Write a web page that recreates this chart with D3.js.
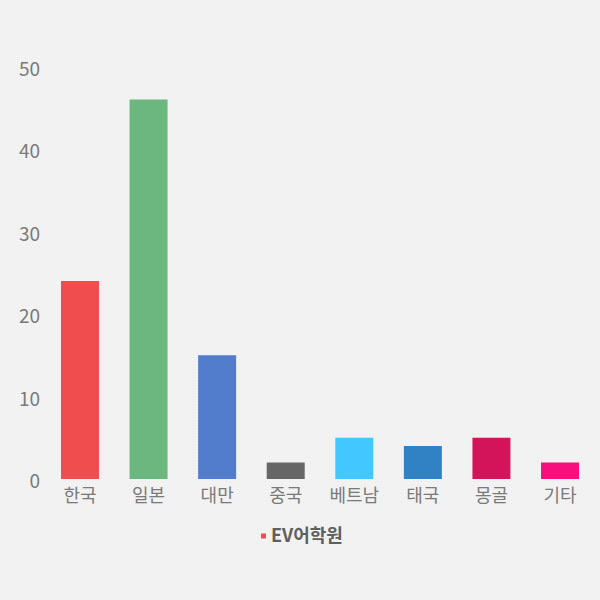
<!DOCTYPE html>
<html>
<head>
<meta charset="utf-8">
<script src="https://cdn.jsdelivr.net/npm/d3@7"></script>
<style>
  html, body { margin: 0; padding: 0; background: #f3f3f3; }
  svg { display: block; }
</style>
</head>
<body>
<svg id="chart" width="600" height="600"></svg>
<script>
const categories = ["한국", "일본", "대만", "중국", "베트남", "태국", "몽골", "기타"];
const values = [24, 46, 15, 2, 5, 4, 5, 2];
const colors = ["#f04e4e", "#6bb77f", "#527dcc", "#666666", "#42c8ff", "#3182c4", "#d4145a", "#f7107d"];
const yTicks = [0, 10, 20, 30, 40, 50];
const seriesName = "EV어학원";

const svg = d3.select("#chart");
const font = "'Noto Sans CJK KR', 'Noto Sans', sans-serif";

// background with subtle speckle
const defs = svg.append("defs");
const pat = defs.append("pattern").attr("id", "noise").attr("width", 4).attr("height", 4).attr("patternUnits", "userSpaceOnUse");
pat.append("rect").attr("width", 4).attr("height", 4).attr("fill", "#f3f3f3");
pat.append("rect").attr("x", 1).attr("y", 1).attr("width", 1).attr("height", 1).attr("fill", "#e6e6e6");
pat.append("rect").attr("x", 3).attr("y", 3).attr("width", 1).attr("height", 1).attr("fill", "#ebebeb");
svg.append("rect").attr("width", 600).attr("height", 600).attr("fill", "url(#noise)");

const x = d3.scaleBand().domain(categories).range([45.7, 594.3]).paddingInner(0.446).paddingOuter(0.223);
const y = d3.scaleLinear().domain([0, 50]).range([479, 66.5]);

// bars
svg.append("g").selectAll("rect").data(categories).join("rect")
  .attr("x", d => x(d))
  .attr("width", x.bandwidth())
  .attr("y", (d, i) => y(values[i]))
  .attr("height", (d, i) => y(0) - y(values[i]))
  .attr("fill", (d, i) => colors[i]);

// y axis
const yAxis = svg.append("g").attr("transform", "translate(40,0)")
  .call(d3.axisLeft(y).tickValues(yTicks).tickSize(0).tickPadding(0));
yAxis.select(".domain").remove();
yAxis.selectAll("text")
  .attr("font-family", font).attr("font-size", 19).attr("fill", "#7a7a7a")
  .attr("dy", "0.45em");

// x axis
const xAxis = svg.append("g").attr("transform", `translate(0,${y(0)})`)
  .call(d3.axisBottom(x).tickSize(0).tickPadding(0));
xAxis.select(".domain").remove();
xAxis.selectAll("text")
  .attr("font-family", font).attr("font-size", 18).attr("fill", "#7a7a7a")
  .attr("y", 0).attr("dy", "1.25em");

// legend
const lg = svg.append("g");
lg.append("rect").attr("x", 261).attr("y", 533.5).attr("width", 5).attr("height", 5).attr("fill", colors[0]);
lg.append("text").attr("x", 271).attr("y", 536).attr("dy", "0.36em")
  .attr("font-family", font).attr("font-size", 18).attr("font-weight", "bold")
  .attr("fill", "#5f5f5f").text(seriesName);
</script>
</body>
</html>
